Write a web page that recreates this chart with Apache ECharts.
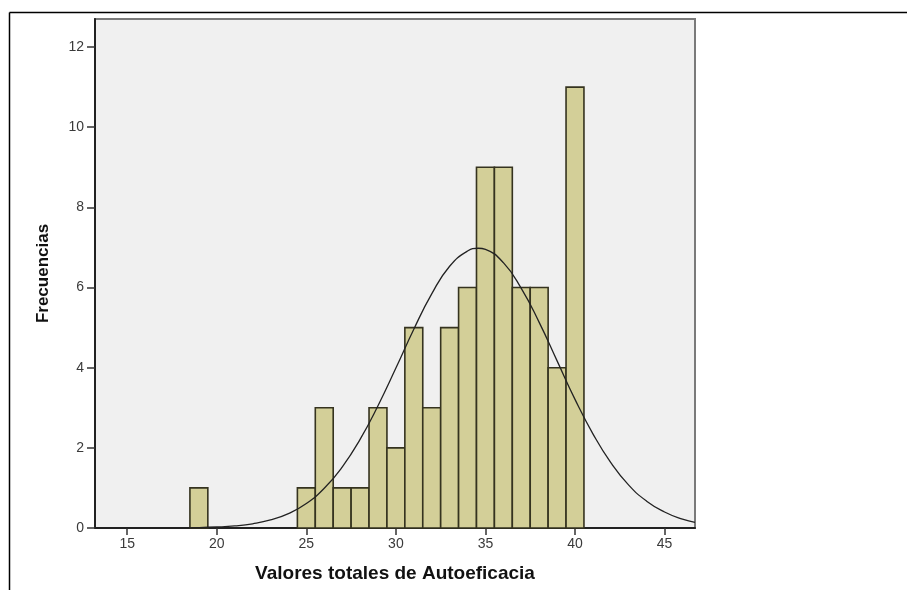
<!DOCTYPE html>
<html>
<head>
<meta charset="utf-8">
<script src="https://cdn.jsdelivr.net/npm/echarts@6/dist/echarts.min.js"></script>
<style>
html,body{margin:0;padding:0;background:#fff;}
#chart{width:907px;height:590px;}
</style>
</head>
<body>
<div id="chart"></div>
<script>
// Histogram bins (centered at integer values, width 1)
var binCenters = [19, 25, 26, 27, 28, 29, 30, 31, 32, 33, 34, 35, 36, 37, 38, 39, 40];
var binCounts  = [1, 1, 3, 1, 1, 3, 2, 5, 3, 5, 6, 9, 9, 6, 6, 4, 11];
// Normal curve points
var curveX = [13.2, 15, 17, 19, 20, 21, 22, 23, 24, 25, 26, 27, 28, 29, 30, 31, 32, 33, 34, 34.6, 35, 36, 37, 38, 39, 40, 41, 42, 43, 44, 45, 46, 46.7];
var curveY = [0, 0, 0.002, 0.011, 0.025, 0.052, 0.105, 0.2, 0.36, 0.61, 0.99, 1.52, 2.21, 3.05, 3.99, 4.96, 5.84, 6.53, 6.91, 6.98, 6.95, 6.62, 5.98, 5.13, 4.17, 3.21, 2.35, 1.63, 1.07, 0.67, 0.4, 0.22, 0.14];
var xTicks = [15, 20, 25, 30, 35, 40, 45];
var yTicks = [0, 2, 4, 6, 8, 10, 12];

var barData = binCenters.map(function (c, i) { return [c, binCounts[i]]; });
var curveData = curveX.map(function (x, i) { return [x, curveY[i]]; });

var chart = echarts.init(document.getElementById('chart'), null, {renderer: 'canvas'});
var FONT = 'Liberation Sans, Arial, sans-serif';
var labelFont = {color: '#3a3a3a', fontSize: 14, fontFamily: FONT};

chart.setOption({
  animation: false,
  backgroundColor: '#fff',
  graphic: [
    {type: 'line', shape: {x1: 9.5, y1: 12.5, x2: 907, y2: 12.5}, style: {stroke: '#000', lineWidth: 1.5}},
    {type: 'line', shape: {x1: 9.5, y1: 12.5, x2: 9.5, y2: 590}, style: {stroke: '#000', lineWidth: 1.5}}
  ],
  grid: {
    left: 95, right: 212, top: 19, bottom: 62,
    show: true, backgroundColor: '#f0f0f0', borderColor: '#7a7a7a', borderWidth: 2
  },
  xAxis: {
    type: 'value', min: 13.2, max: 46.7,
    name: 'Valores totales de Autoeficacia',
    nameLocation: 'middle', nameGap: 36,
    nameTextStyle: {fontSize: 19, fontWeight: 'bold', color: '#111', fontFamily: FONT},
    axisLine: {show: true, onZero: false, lineStyle: {color: '#222', width: 2}},
    axisTick: {show: true, length: 7, lineStyle: {color: '#333', width: 1.5}, customValues: xTicks},
    axisLabel: Object.assign({margin: 9, customValues: xTicks}, labelFont),
    splitLine: {show: false}
  },
  yAxis: {
    type: 'value', min: 0, max: 12.7,
    name: 'Frecuencias',
    nameLocation: 'middle', nameGap: 43, nameRotate: 90,
    nameTextStyle: {fontSize: 17, fontWeight: 'bold', color: '#111', fontFamily: FONT},
    axisLine: {show: true, lineStyle: {color: '#222', width: 2}},
    axisTick: {show: true, length: 8, lineStyle: {color: '#333', width: 1.5}, customValues: yTicks},
    axisLabel: Object.assign({margin: 11, customValues: yTicks}, labelFont),
    splitLine: {show: false}
  },
  series: [
    {
      type: 'custom',
      data: barData,
      renderItem: function (params, api) {
        var c = api.value(0), v = api.value(1);
        var p0 = api.coord([c - 0.5, 0]);
        var p1 = api.coord([c + 0.5, v]);
        return {
          type: 'rect',
          shape: {x: p0[0], y: p1[1], width: p1[0] - p0[0], height: p0[1] - p1[1]},
          style: {fill: '#d3cf98', stroke: '#35331f', lineWidth: 1.6}
        };
      },
      z: 2
    },
    {
      type: 'line',
      data: curveData,
      smooth: true,
      symbol: 'none',
      lineStyle: {color: '#222', width: 1.3},
      z: 3
    }
  ]
});
</script>
</body>
</html>
